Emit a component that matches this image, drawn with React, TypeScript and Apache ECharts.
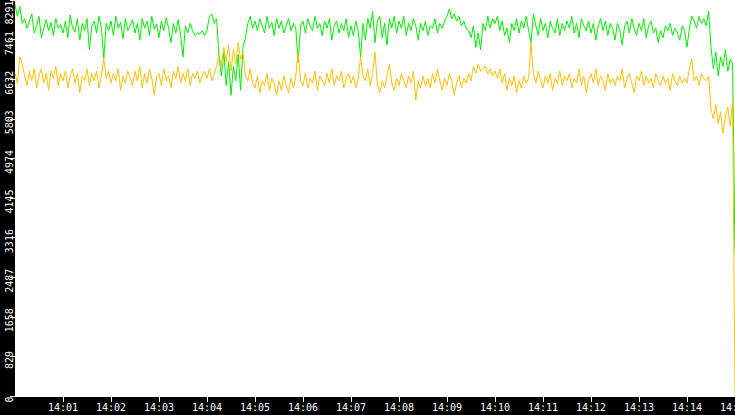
import React, { useEffect, useRef } from 'react';
import * as echarts from 'echarts';

// one sample every 3 seconds, starting at 14:00:00
const stepSeconds = 3;

const xTickLabels = [
  '14:00', '14:01', '14:02', '14:03', '14:04', '14:05', '14:06', '14:07',
  '14:08', '14:09', '14:10', '14:11', '14:12', '14:13', '14:14', '14:15',
];

const yTickLabels = ['0', '829', '1658', '2487', '3316', '4145', '4974', '5803', '6632', '7461', '8291'];

const greenValues = [
  8200, 7950, 8150, 7800, 7900, 7700, 7850, 8000, 7600, 7750,
  7950, 7500, 7700, 7880, 7650, 7820, 7550, 7900, 7700, 7780,
  7600, 7850, 7500, 7980, 7700, 7620, 7900, 7450, 7800, 7650,
  7900, 7250, 7750, 7850, 7600, 7950, 7700, 7080, 7800, 7650,
  7850, 7550, 7950, 7700, 7820, 7480, 7900, 7650, 7750, 7880,
  7600, 7800, 7450, 7900, 7700, 7850, 7550, 7950, 7680, 7780,
  7500, 7850, 7650, 7920, 7700, 7400, 7800, 7600, 7880, 7550,
  7100, 7750, 7600, 7800, 7650, 7550, 7600, 7580, 7650, 7550,
  7650, 7950, 8000, 7800, 7900, 7100, 6700, 7200, 6500, 7000,
  6300, 6900, 6600, 7150, 6400, 7300, 7500, 7800, 7950, 7700,
  7850, 7650, 7900, 7750, 7600, 7950, 7700, 7820, 7550, 7900,
  7700, 7850, 7600, 7750, 7900, 7650, 7800, 7700, 6980, 7750,
  7850, 7600, 7900, 7750, 7650, 7950, 7700, 7800, 7550, 7850,
  7700, 7900, 7450, 7750, 7850, 7600, 7800, 7650, 7900, 7500,
  7750, 7550, 7850, 7650, 7100, 7800, 7450, 7900, 7700, 8050,
  7400, 7850, 7950, 7500, 7800, 7350, 7900, 7700, 7950, 7600,
  7850, 7700, 7950, 7550, 7800, 7650, 7900, 7750, 7450, 7800,
  7650, 7850, 7550, 7750, 7700, 7900, 7600, 7800, 7700, 7850,
  7950, 8100, 7900, 8000, 7850, 7950, 7750, 7850, 7700, 7650,
  7500, 7750, 7300, 7600, 7250, 7800, 7650, 7950, 7700, 7900,
  7800, 7950, 7650, 7850, 7550, 7700, 7400, 7800, 7650, 7900,
  7600, 7850, 7700, 7950, 7650, 7400, 8000, 7750, 7550, 7900,
  7650, 7800, 7500, 7850, 7700, 7600, 7900, 7550, 7800, 7650,
  7850, 7700, 7950, 7600, 7800, 7500, 7900, 7750, 7650, 7850,
  7600, 7800, 7450, 7750, 7900, 7650, 7850, 7550, 7800, 7700,
  7450, 7800, 7650, 7350, 7750, 7850, 7600, 7900, 7700, 7550,
  7800, 7650, 7900, 7500, 7750, 7850, 7600, 7700, 7400, 7650,
  7500, 7750, 7650, 7800, 7550, 7700, 7600, 7450, 7750, 7650,
  7300, 7700, 7950, 7850, 7700, 7950, 7800, 7900, 7750, 8050,
  7300, 6850, 7200, 6700, 7100, 6900, 7250, 6800, 7050, 6950,
  3000,
];

const yellowValues = [
  6750, 6550, 7100, 6950, 6700, 6500, 6800, 6600, 6850, 6450,
  6700, 6850, 6550, 6750, 6400, 6800, 6650, 6900, 6500, 6750,
  6600, 6800, 6450, 6700, 6850, 6550, 6750, 6350, 6700, 6600,
  6850, 6500, 6750, 6600, 6800, 6450, 6700, 7080, 6650, 6800,
  6550, 6750, 6600, 6850, 6400, 6700, 6550, 6800, 6650, 6500,
  6800, 6600, 6900, 6450, 6750, 6550, 6850, 6650, 6300, 6700,
  6750, 6500, 6850, 6600, 6700, 6450, 6800, 6650, 6900, 6550,
  6750, 6600, 6850, 6500, 6750, 6650, 6800, 6550, 6700, 6800,
  6650, 6850, 6600, 6750, 6900, 7150, 6900, 7300, 7000, 7350,
  6800, 7250, 6950, 7400, 7050, 7200, 6700, 6600, 6850, 6550,
  6450, 6700, 6350, 6600, 6500, 6750, 6400, 6650, 6550, 6300,
  6600, 6400, 6700, 6500, 6350, 6650, 6450, 6700, 7190, 6600,
  6500, 6750, 6450, 6650, 6550, 6800, 6400, 6700, 6600, 6500,
  6750, 6550, 6850, 6500, 6700, 6600, 6800, 6450, 6650, 6750,
  6550, 6700, 6450, 6650, 7100, 6700, 6600, 6850, 6500, 6750,
  7200, 6500, 6350, 6600, 6450, 6700, 6950, 6550, 6400, 6650,
  6500, 6750, 6600, 6450, 6700, 6550, 6800, 6200, 6600, 6450,
  6700, 6500, 6650, 6450, 6750, 6550, 6850, 6600, 6400, 6650,
  6500, 6750, 6600, 6300, 6550, 6700, 6450, 6650, 6550, 6750,
  6600, 6900, 6750, 6950, 6800, 6850, 6900, 6750, 6850, 6700,
  6800, 6650, 6850, 6550, 6750, 6400, 6650, 6500, 6700, 6350,
  6600, 6450, 6700, 6550, 6650, 7400, 6750, 6550, 6800, 6600,
  6450, 6700, 6550, 6750, 6400, 6650, 6550, 6800, 6500, 6700,
  6600, 6750, 6450, 6650, 6550, 6850, 6500, 6700, 6350, 6600,
  6750, 6550, 6850, 6500, 6700, 6600, 6400, 6750, 6550, 6650,
  6500, 6700, 6600, 6850, 6450, 6650, 6750, 6550, 6350, 6700,
  6600, 6800, 6500, 6700, 6550, 6650, 6450, 6750, 6600, 6500,
  6700, 6550, 6650, 6400, 6750, 6600, 6500, 6700, 6550, 6650,
  6550, 6850, 7050, 6600, 6700, 6500, 6750, 6650, 6600, 6700,
  6000, 5800, 6100, 5700, 5950, 5500, 5850, 6050, 5650, 6200,
  0,
];

const toPoints = (values: number[]) => values.map((v, i) => [i * stepSeconds, v]);

const App: React.FC = () => {
  const chartRef = useRef<HTMLDivElement | null>(null);

  useEffect(() => {
    if (!chartRef.current) return;
    const chart = echarts.init(chartRef.current, undefined, { renderer: 'svg' });

    const labelFont = {
      color: '#fff',
      fontFamily: 'DejaVu Sans Mono',
      fontSize: 10,
    };

    const option: any = {
      animation: false,
      backgroundColor: '#000',
      grid: {
        left: 15,
        right: 0,
        top: 0,
        bottom: 19,
        show: true,
        backgroundColor: '#fff',
        borderWidth: 0,
        containLabel: false,
        outerBoundsMode: 'none',
      },
      xAxis: {
        type: 'value',
        min: 0,
        max: (xTickLabels.length - 1) * 60,
        interval: 60,
        offset: 2,
        axisLine: { lineStyle: { color: '#fff', width: 1 } },
        axisTick: { length: 6, lineStyle: { color: '#fff' } },
        splitLine: { show: false },
        axisLabel: {
          ...labelFont,
          margin: 4,
          showMinLabel: false,
          showMaxLabel: true,
          hideOverlap: false,
          formatter: (v: number) => xTickLabels[Math.round(v / 60)] ?? '',
        },
      },
      yAxis: {
        type: 'value',
        min: 0,
        max: 8291,
        interval: 829.1,
        axisLine: { show: false },
        axisTick: { length: 5, lineStyle: { color: '#fff' } },
        splitLine: { show: false },
        axisLabel: {
          ...labelFont,
          rotate: 90,
          margin: 1,
          showMaxLabel: true,
          formatter: (_v: number, idx: number) => {
            const t = yTickLabels[idx] ?? '';
            return idx === yTickLabels.length - 1 ? `{top|${t}}` : `{n|${t}}`;
          },
          rich: {
            n: { ...labelFont, padding: [0, 7, 0, 0] },
            top: { ...labelFont, padding: [0, 25, 0, 0] },
          },
        },
      },
      series: [
        {
          type: 'line',
          data: toPoints(greenValues),
          showSymbol: false,
          lineStyle: { color: '#00ee00', width: 1 },
        },
        {
          type: 'line',
          data: toPoints(yellowValues),
          showSymbol: false,
          lineStyle: { color: '#ffc000', width: 1 },
        },
      ],
    };

    chart.setOption(option);
    return () => {
      chart.dispose();
    };
  }, []);

  return (
    <div
      ref={chartRef}
      style={{ position: 'fixed', left: 0, top: 0, width: '735px', height: '415px' }}
    />
  );
};

export default App;
